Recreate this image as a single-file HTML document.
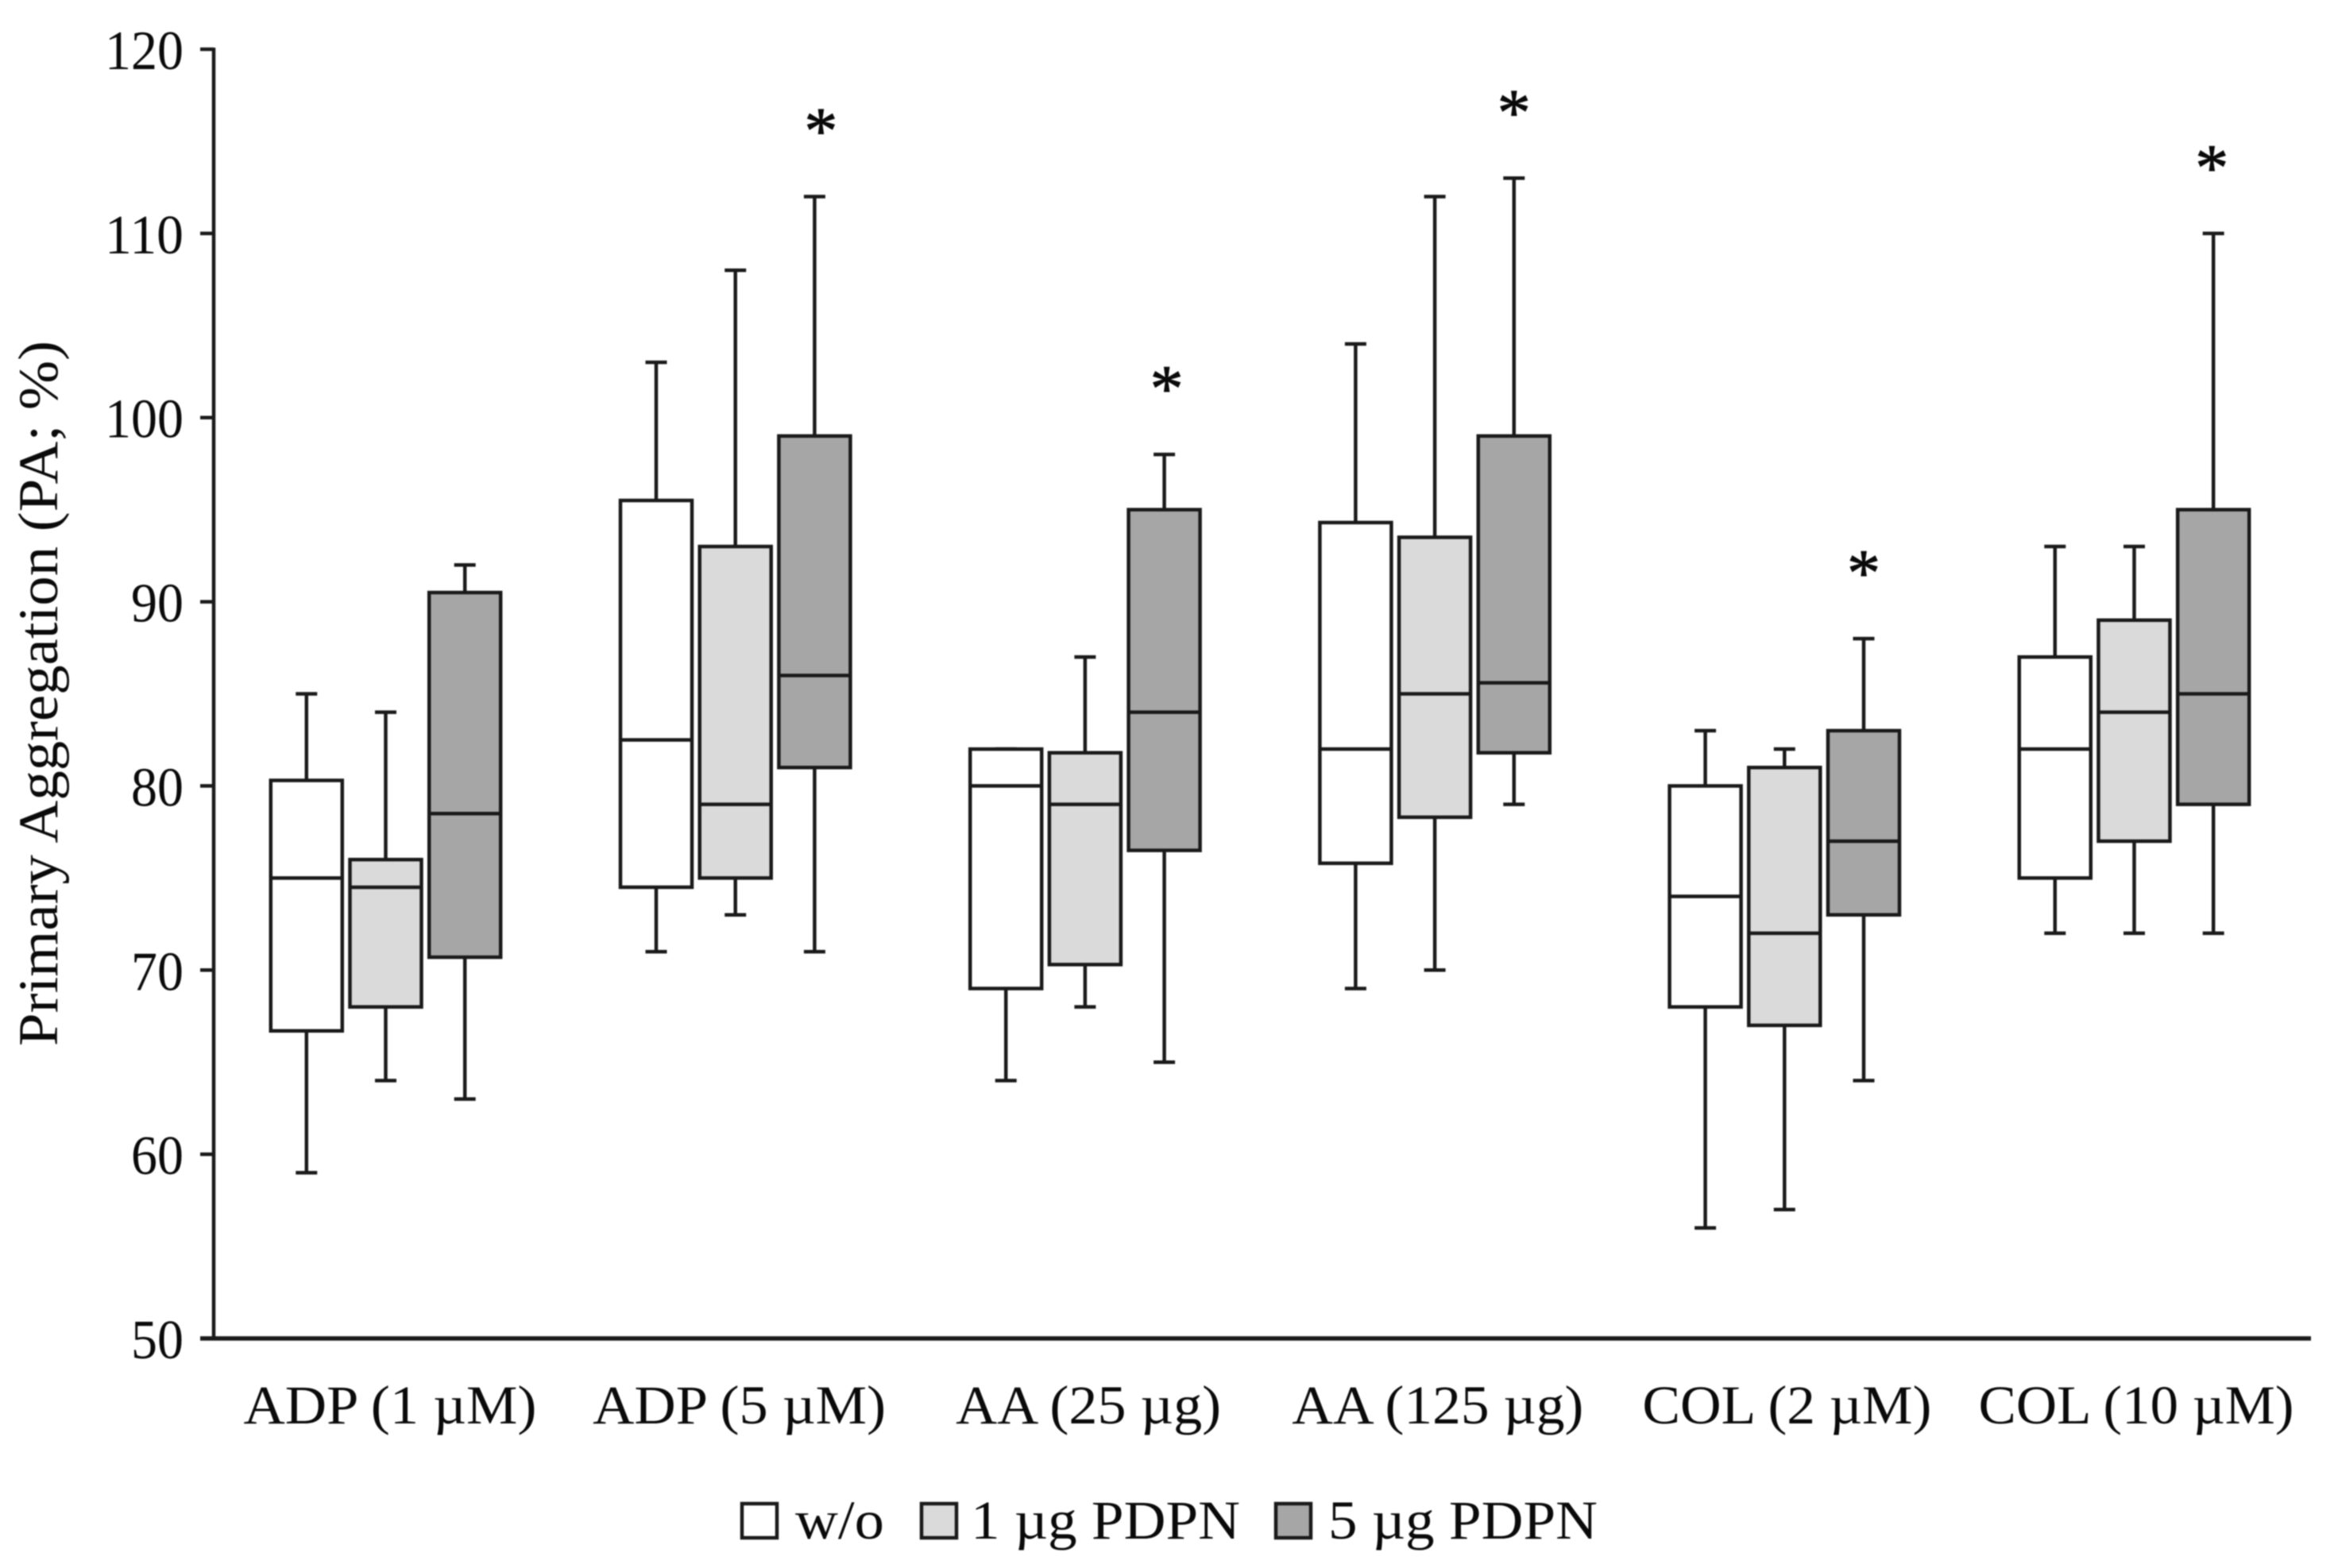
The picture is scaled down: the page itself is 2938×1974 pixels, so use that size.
<!DOCTYPE html>
<html>
<head>
<meta charset="utf-8">
<title>Primary Aggregation Box Plot</title>
<style>
html,body{margin:0;padding:0;background:#fff}
svg{display:block;filter:blur(0.7px)}
text{font-family:"Liberation Serif","DejaVu Serif",serif;fill:#0a0a0a}
</style>
</head>
<body>
<svg id="chart" xmlns="http://www.w3.org/2000/svg" width="2938" height="1974" viewBox="0 0 2938 1974"></svg>
<script>
const categories = ["ADP (1 µM)", "ADP (5 µM)", "AA (25 µg)", "AA (125 µg)", "COL (2 µM)", "COL (10 µM)"];
const seriesNames = ["w/o", "1 µg PDPN", "5 µg PDPN"];
const yTickLabels = [50, 60, 70, 80, 90, 100, 110, 120];
const whiskerLow = [[59, 64, 63], [71, 73, 71], [64, 68, 65], [69, 70, 79], [56, 57, 64], [72, 72, 72]];
const quartile1 = [[66.7, 68, 70.7], [74.5, 75, 81], [69, 70.3, 76.5], [75.8, 78.3, 81.8], [68, 67, 73], [75, 77, 79]];
const median = [[75, 74.5, 78.5], [82.5, 79, 86], [80, 79, 84], [82, 85, 85.6], [74, 72, 77], [82, 84, 85]];
const quartile3 = [[80.3, 76, 90.5], [95.5, 93, 99], [82, 81.8, 95], [94.3, 93.5, 99], [80, 81, 83], [87, 89, 95]];
const whiskerHigh = [[85, 84, 92], [103, 108, 112], [82, 87, 98], [104, 112, 113], [83, 82, 88], [93, 93, 110]];
const significant = [[0, 0, 0], [0, 0, 1], [0, 0, 1], [0, 0, 1], [0, 0, 1], [0, 0, 1]];

const NS = "http://www.w3.org/2000/svg";
const svg = document.getElementById("chart");
const fills = ["#ffffff", "#dadada", "#a6a6a6"];
const ink = "#1a1a1a";
const plot = { left: 269, right: 2909, top: 62, bottom: 1685, yMin: 50, yMax: 120 };
const firstGroup = 485.5, groupStep = 440.2, boxOffset = 99.7, boxWidth = 90, capWidth = 27;
const labelFirst = 491, labelStep = 439.6;
const labelWidths = [369, 369, 334, 367, 364, 397];
const starNudge = [0, 8, 3, 0, 0, -2];

function yScale(v) {
  return plot.bottom - (v - plot.yMin) / (plot.yMax - plot.yMin) * (plot.bottom - plot.top);
}
function xScale(g, s) {
  return firstGroup + g * groupStep + (s - 1) * boxOffset;
}
function make(tag, attrs, parent) {
  const el = document.createElementNS(NS, tag);
  for (const k in attrs) el.setAttribute(k, attrs[k]);
  (parent || svg).appendChild(el);
  return el;
}
function line(x1, y1, x2, y2, w, parent) {
  return make("line", { x1: x1, y1: y1, x2: x2, y2: y2, stroke: ink, "stroke-width": w }, parent);
}

// Y axis
const yAxis = make("g", {});


const yAxisLine = line(plot.left, plot.top - 2, plot.left, plot.bottom, 4.5, yAxis);


yTickLabels.forEach(function (v) {
  const y = yScale(v);
  const tick = line(plot.left - 17, y, plot.left, y, 4.5, yAxis);
  
  
  const label = make("text", {
    x: 231, y: y + 25, "text-anchor": "end", "font-size": 70,
    textLength: String(v).length * 33, lengthAdjust: "spacingAndGlyphs"
  }, yAxis);
  
  
  label.textContent = v;
});

// Y title
const yTitle = make("text", {
  x: 0, y: 0, "text-anchor": "middle", "font-size": 71,
  textLength: 888, lengthAdjust: "spacingAndGlyphs",
  transform: "translate(72 873) rotate(-90)"
});


yTitle.textContent = "Primary Aggregation (PA; %)";

// X axis
const xAxisLine = line(plot.left - 17, plot.bottom, plot.right, plot.bottom, 5.5, svg);



categories.forEach(function (name, g) {
  const label = make("text", {
    x: labelFirst + g * labelStep, y: 1792, "text-anchor": "middle", "font-size": 69,
    textLength: labelWidths[g], lengthAdjust: "spacingAndGlyphs"
  });
  
  
  label.textContent = name;

  seriesNames.forEach(function (sName, s) {
    const x = xScale(g, s);
    const box = make("g", {});
    
    

    const whiskerUp = line(x, yScale(whiskerHigh[g][s]), x, yScale(quartile3[g][s]), 4.5, box);
    
    
    const whiskerDown = line(x, yScale(quartile1[g][s]), x, yScale(whiskerLow[g][s]), 4.5, box);
    
    
    const capUp = line(x - capWidth / 2, yScale(whiskerHigh[g][s]), x + capWidth / 2, yScale(whiskerHigh[g][s]), 4.5, box);
    
    
    const capDown = line(x - capWidth / 2, yScale(whiskerLow[g][s]), x + capWidth / 2, yScale(whiskerLow[g][s]), 4.5, box);
    
    

    const rect = make("rect", {
      x: x - boxWidth / 2, y: yScale(quartile3[g][s]),
      width: boxWidth, height: yScale(quartile1[g][s]) - yScale(quartile3[g][s]),
      fill: fills[s], stroke: ink, "stroke-width": 4.5
    }, box);
    
    

    const med = line(x - boxWidth / 2, yScale(median[g][s]), x + boxWidth / 2, yScale(median[g][s]), 4.5, box);
    
    

    if (significant[g][s]) {
      const star = make("text", {
        x: x + starNudge[g], y: yScale(whiskerHigh[g][s]) - 55, "text-anchor": "middle", "font-size": 84,
        stroke: "#0a0a0a", "stroke-width": 1
      }, box);
      
      
      star.textContent = "*";
    }
  });
});

// Legend
const legendSwatchX = [934, 1160, 1606];
const legendTextX = [1001, 1222, 1672];
const legendTextW = [112, 339, 339];
const legend = make("g", {});


seriesNames.forEach(function (sName, s) {
  const swatch = make("rect", {
    x: legendSwatchX[s], y: 1893, width: 44, height: 43,
    fill: fills[s], stroke: ink, "stroke-width": 4.5
  }, legend);
  
  
  const text = make("text", {
    x: legendTextX[s], y: 1937, "font-size": 69,
    textLength: legendTextW[s], lengthAdjust: "spacingAndGlyphs"
  }, legend);
  
  
  text.textContent = sName;
});
</script>
</body>
</html>
